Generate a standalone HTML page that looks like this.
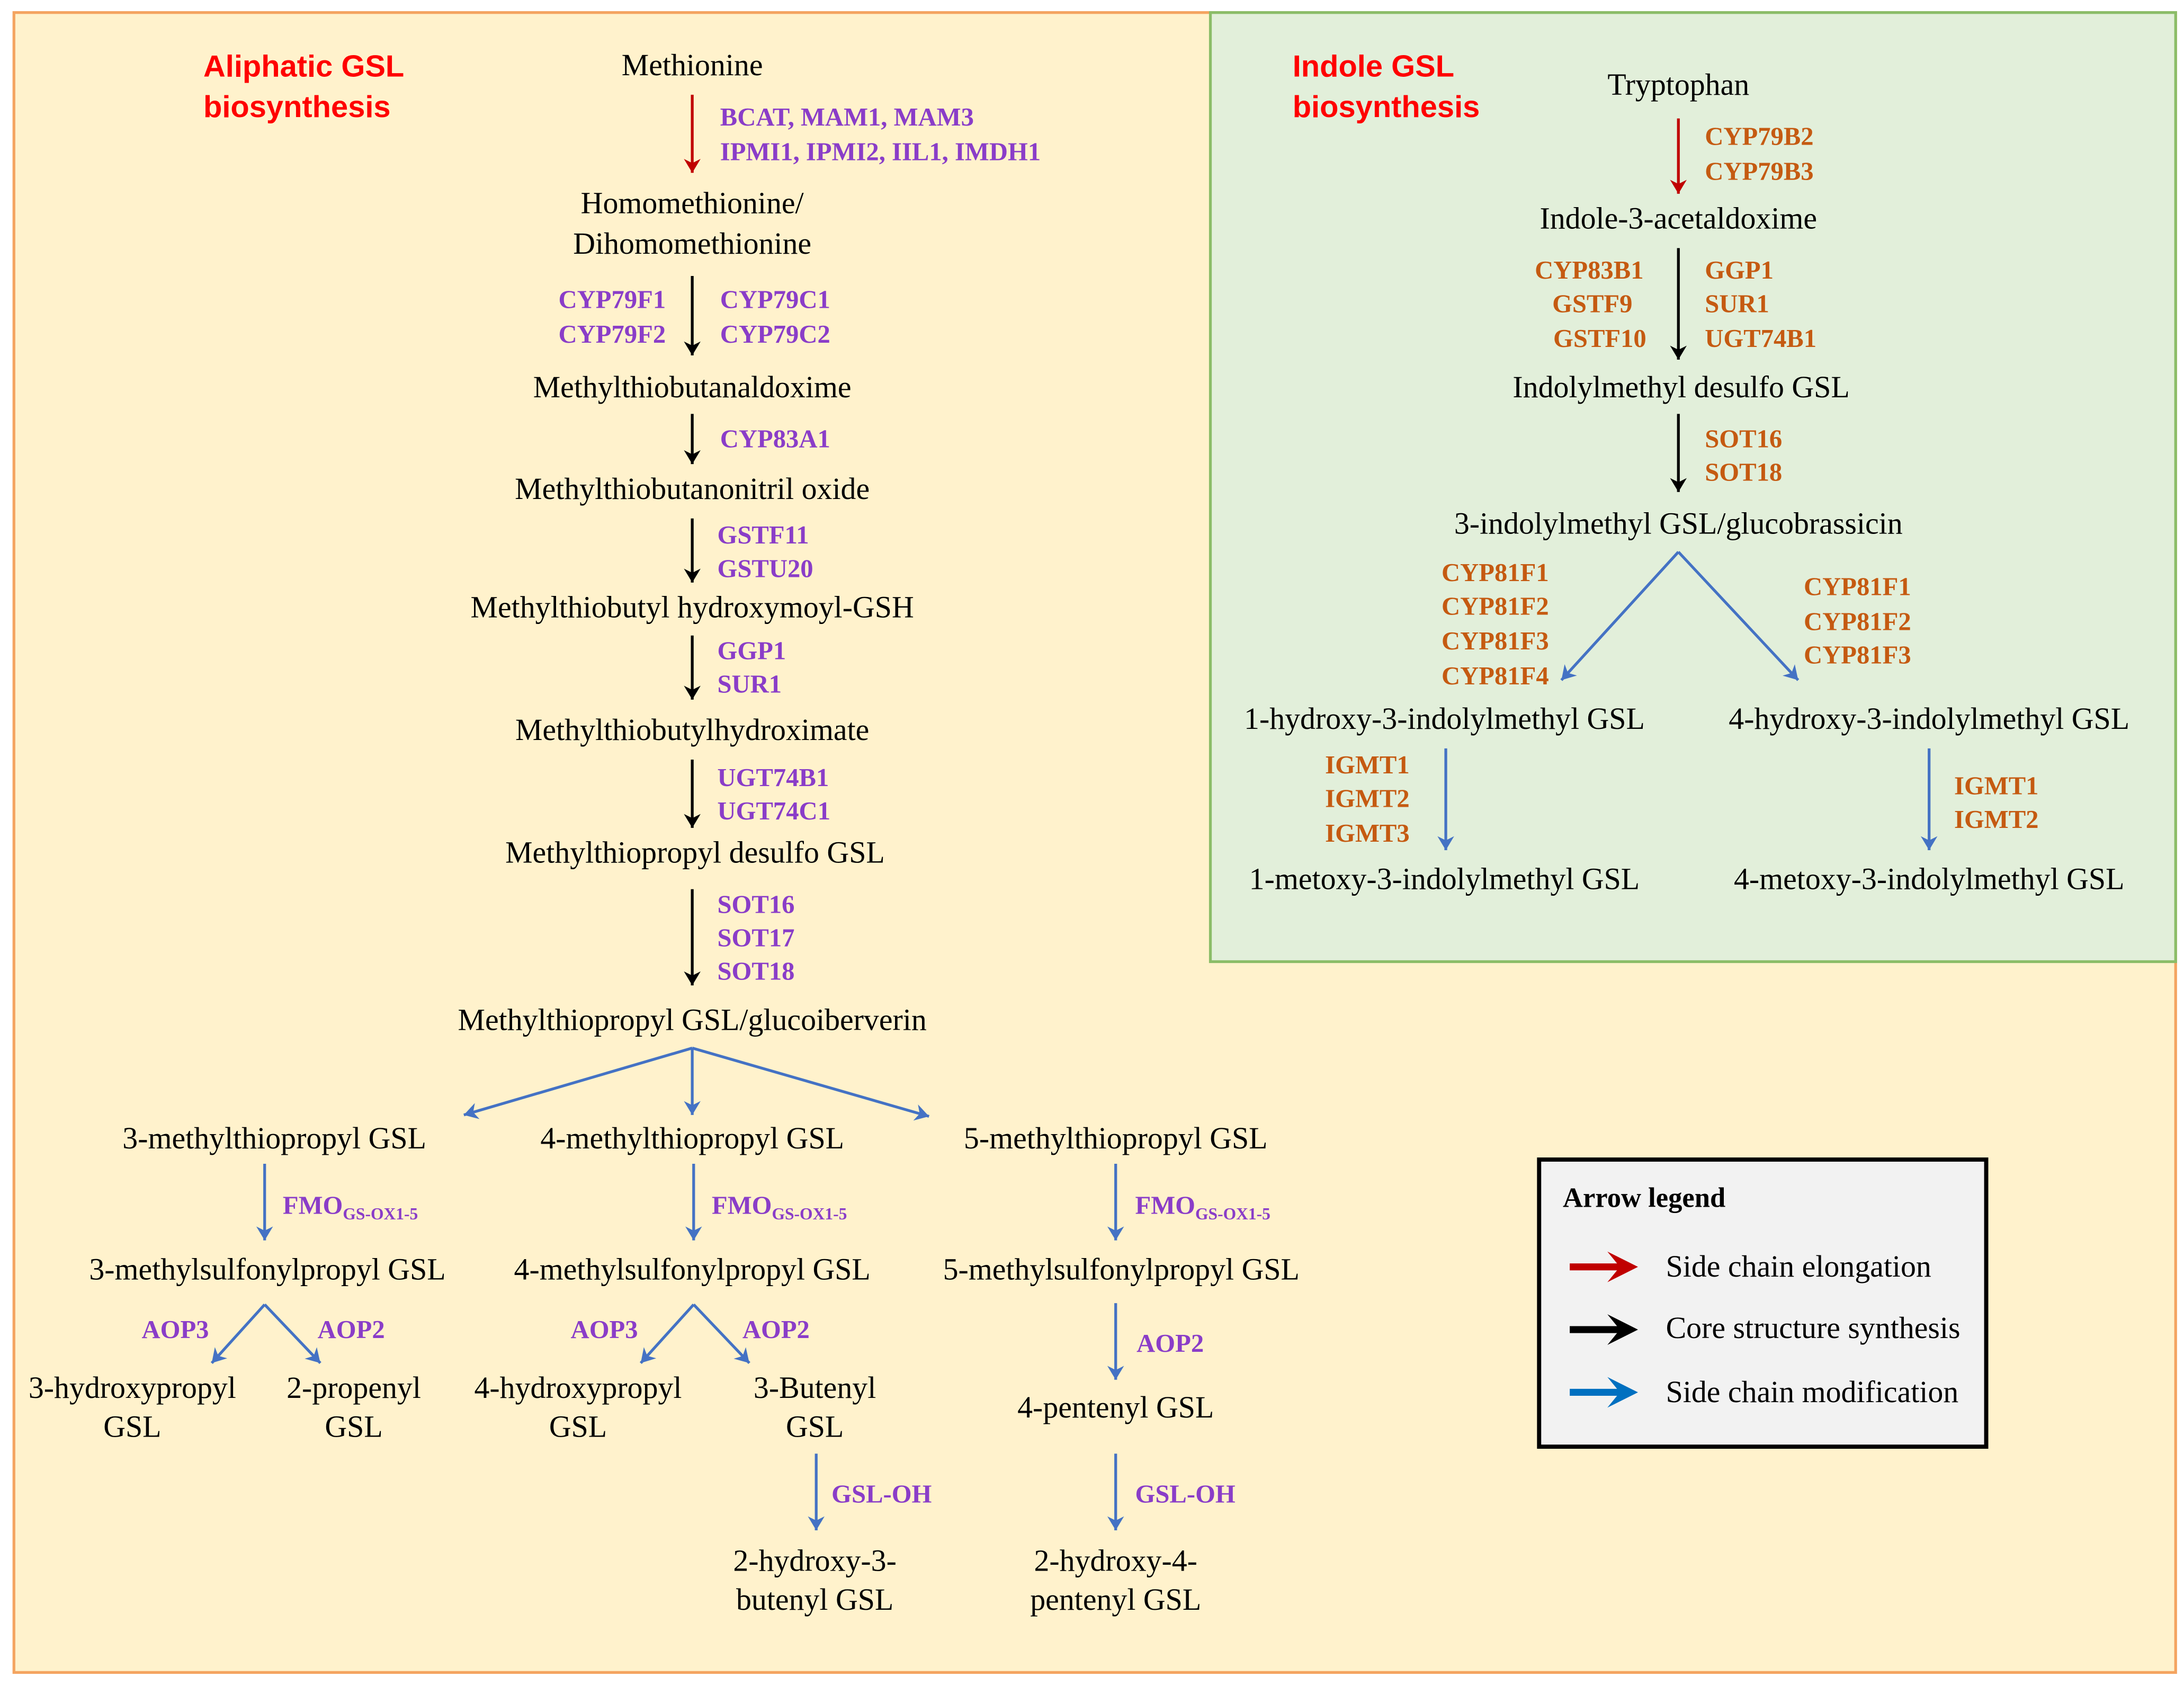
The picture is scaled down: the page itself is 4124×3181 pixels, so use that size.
<!DOCTYPE html>
<html><head><style>html,body{margin:0;padding:0;background:#fff}svg{display:block}</style></head>
<body>
<svg width="4124" height="3181" viewBox="0 0 1568 1209" preserveAspectRatio="none" xmlns="http://www.w3.org/2000/svg">
<defs>
<marker id="ar" markerUnits="userSpaceOnUse" markerWidth="20" markerHeight="20" refX="10" refY="10" orient="auto"><path d="M0,4 L10,10 L0,16 L3,10 Z" fill="#c00000"/></marker>
<marker id="ak" markerUnits="userSpaceOnUse" markerWidth="20" markerHeight="20" refX="10" refY="10" orient="auto"><path d="M0,4 L10,10 L0,16 L3,10 Z" fill="#000"/></marker>
<marker id="ab" markerUnits="userSpaceOnUse" markerWidth="20" markerHeight="20" refX="10" refY="10" orient="auto"><path d="M0,4 L10,10 L0,16 L3,10 Z" fill="#4472c4"/></marker>
</defs>
<rect x="0" y="0" width="1568" height="1209" fill="#fff"/>
<rect x="10" y="9" width="1552" height="1191" fill="#fff2cc" stroke="#f4a460" stroke-width="2"/>
<rect x="869" y="9" width="693" height="681" fill="#e2efda" stroke="#8bbd68" stroke-width="2"/>

<g style="font-family:'Liberation Sans',sans-serif" font-weight="bold" font-size="22" fill="#ff0000">
<text x="146" y="55">Aliphatic GSL</text><text x="146" y="84">biosynthesis</text>
<text x="928" y="55">Indole GSL</text><text x="928" y="84">biosynthesis</text>
</g>

<g stroke-width="2" fill="none">
<line x1="497" y1="68" x2="497" y2="124" stroke="#c00000" marker-end="url(#ar)"/>
<line x1="1205" y1="85" x2="1205" y2="139" stroke="#c00000" marker-end="url(#ar)"/>
<g stroke="#000" marker-end="url(#ak)">
<line x1="497" y1="198" x2="497" y2="255"/>
<line x1="497" y1="297" x2="497" y2="333"/>
<line x1="497" y1="372" x2="497" y2="418"/>
<line x1="497" y1="456" x2="497" y2="502"/>
<line x1="497" y1="545" x2="497" y2="594"/>
<line x1="497" y1="638" x2="497" y2="707"/>
<line x1="1205" y1="178" x2="1205" y2="258"/>
<line x1="1205" y1="297" x2="1205" y2="353"/>
</g>
<g stroke="#4472c4" marker-end="url(#ab)">
<line x1="497" y1="752" x2="333" y2="800"/>
<line x1="497" y1="752" x2="497" y2="800"/>
<line x1="497" y1="752" x2="667" y2="801"/>
<line x1="190" y1="835" x2="190" y2="890"/>
<line x1="498" y1="835" x2="498" y2="890"/>
<line x1="801" y1="835" x2="801" y2="890"/>
<line x1="190" y1="936" x2="152" y2="978"/>
<line x1="190" y1="936" x2="230" y2="978"/>
<line x1="498" y1="936" x2="460" y2="978"/>
<line x1="498" y1="936" x2="538" y2="978"/>
<line x1="801" y1="935" x2="801" y2="990"/>
<line x1="586" y1="1043" x2="586" y2="1098"/>
<line x1="801" y1="1043" x2="801" y2="1098"/>
<line x1="1205" y1="396" x2="1121" y2="488"/>
<line x1="1205" y1="396" x2="1291" y2="488"/>
<line x1="1038" y1="537" x2="1038" y2="610"/>
<line x1="1385" y1="537" x2="1385" y2="610"/>
</g>
</g>

<g style="font-family:'Liberation Serif',serif" font-size="22" fill="#000" text-anchor="middle">
<text x="497" y="54">Methionine</text>
<text x="497" y="153">Homomethionine/</text>
<text x="497" y="182">Dihomomethionine</text>
<text x="497" y="285">Methylthiobutanaldoxime</text>
<text x="497" y="358">Methylthiobutanonitril oxide</text>
<text x="497" y="443">Methylthiobutyl hydroxymoyl-GSH</text>
<text x="497" y="531">Methylthiobutylhydroximate</text>
<text x="499" y="619">Methylthiopropyl desulfo GSL</text>
<text x="497" y="739">Methylthiopropyl GSL/glucoiberverin</text>
<text x="197" y="824">3-methylthiopropyl GSL</text>
<text x="497" y="824">4-methylthiopropyl GSL</text>
<text x="801" y="824">5-methylthiopropyl GSL</text>
<text x="192" y="918">3-methylsulfonylpropyl GSL</text>
<text x="497" y="918">4-methylsulfonylpropyl GSL</text>
<text x="805" y="918">5-methylsulfonylpropyl GSL</text>
<text x="95" y="1003">3-hydroxypropyl</text><text x="95" y="1031">GSL</text>
<text x="254" y="1003">2-propenyl</text><text x="254" y="1031">GSL</text>
<text x="415" y="1003">4-hydroxypropyl</text><text x="415" y="1031">GSL</text>
<text x="585" y="1003">3-Butenyl</text><text x="585" y="1031">GSL</text>
<text x="801" y="1017">4-pentenyl GSL</text>
<text x="585" y="1127">2-hydroxy-3-</text><text x="585" y="1155">butenyl GSL</text>
<text x="801" y="1127">2-hydroxy-4-</text><text x="801" y="1155">pentenyl GSL</text>
<text x="1205" y="68">Tryptophan</text>
<text x="1205" y="164">Indole-3-acetaldoxime</text>
<text x="1207" y="285">Indolylmethyl desulfo GSL</text>
<text x="1205" y="383">3-indolylmethyl GSL/glucobrassicin</text>
<text x="1037" y="523">1-hydroxy-3-indolylmethyl GSL</text>
<text x="1385" y="523">4-hydroxy-3-indolylmethyl GSL</text>
<text x="1037" y="638">1-metoxy-3-indolylmethyl GSL</text>
<text x="1385" y="638">4-metoxy-3-indolylmethyl GSL</text>
</g>

<g style="font-family:'Liberation Serif',serif" font-weight="bold" font-size="18.5" fill="#8a3dc8">
<text x="517" y="90">BCAT, MAM1, MAM3</text>
<text x="517" y="115">IPMI1, IPMI2, IIL1, IMDH1</text>
<text x="478" y="221" text-anchor="end">CYP79F1</text>
<text x="478" y="246" text-anchor="end">CYP79F2</text>
<text x="517" y="221">CYP79C1</text>
<text x="517" y="246">CYP79C2</text>
<text x="517" y="321">CYP83A1</text>
<text x="515" y="390">GSTF11</text>
<text x="515" y="414">GSTU20</text>
<text x="515" y="473">GGP1</text>
<text x="515" y="497">SUR1</text>
<text x="515" y="564">UGT74B1</text>
<text x="515" y="588">UGT74C1</text>
<text x="515" y="655">SOT16</text>
<text x="515" y="679">SOT17</text>
<text x="515" y="703">SOT18</text>
<text x="203" y="871">FMO<tspan font-size="12" dy="4">GS-OX1-5</tspan></text>
<text x="511" y="871">FMO<tspan font-size="12" dy="4">GS-OX1-5</tspan></text>
<text x="815" y="871">FMO<tspan font-size="12" dy="4">GS-OX1-5</tspan></text>
<text x="150" y="960" text-anchor="end">AOP3</text>
<text x="228" y="960">AOP2</text>
<text x="458" y="960" text-anchor="end">AOP3</text>
<text x="533" y="960">AOP2</text>
<text x="816" y="970">AOP2</text>
<text x="597" y="1078">GSL-OH</text>
<text x="815" y="1078">GSL-OH</text>
</g>

<g style="font-family:'Liberation Serif',serif" font-weight="bold" font-size="18.5" fill="#c55a11">
<text x="1224" y="104">CYP79B2</text>
<text x="1224" y="129">CYP79B3</text>
<text x="1180" y="200" text-anchor="end">CYP83B1</text>
<text x="1172" y="224" text-anchor="end">GSTF9</text>
<text x="1182" y="249" text-anchor="end">GSTF10</text>
<text x="1224" y="200">GGP1</text>
<text x="1224" y="224">SUR1</text>
<text x="1224" y="249">UGT74B1</text>
<text x="1224" y="321">SOT16</text>
<text x="1224" y="345">SOT18</text>
<text x="1112" y="417" text-anchor="end">CYP81F1</text>
<text x="1112" y="441" text-anchor="end">CYP81F2</text>
<text x="1112" y="466" text-anchor="end">CYP81F3</text>
<text x="1112" y="491" text-anchor="end">CYP81F4</text>
<text x="1295" y="427">CYP81F1</text>
<text x="1295" y="452">CYP81F2</text>
<text x="1295" y="476">CYP81F3</text>
<text x="1012" y="555" text-anchor="end">IGMT1</text>
<text x="1012" y="579" text-anchor="end">IGMT2</text>
<text x="1012" y="604" text-anchor="end">IGMT3</text>
<text x="1403" y="570">IGMT1</text>
<text x="1403" y="594">IGMT2</text>
</g>

<rect x="1105" y="832" width="321" height="206" fill="#f2f2f2" stroke="#000" stroke-width="3"/>
<text x="1122" y="866" style="font-family:'Liberation Serif',serif" font-weight="bold" font-size="20">Arrow legend</text>
<g stroke-width="5">
<line x1="1127" y1="909" x2="1168" y2="909" stroke="#c00000"/>
<line x1="1127" y1="954" x2="1168" y2="954" stroke="#000"/>
<line x1="1127" y1="999" x2="1168" y2="999" stroke="#0070c0"/>
</g>
<path d="M1154,898 L1176,909 L1154,920 L1163,909Z" fill="#c00000"/>
<path d="M1154,943 L1176,954 L1154,965 L1163,954Z" fill="#000"/>
<path d="M1154,988 L1176,999 L1154,1010 L1163,999Z" fill="#0070c0"/>
<g style="font-family:'Liberation Serif',serif" font-size="22">
<text x="1196" y="916">Side chain elongation</text>
<text x="1196" y="960">Core structure synthesis</text>
<text x="1196" y="1006">Side chain modification</text>
</g>
</svg>
</body></html>
